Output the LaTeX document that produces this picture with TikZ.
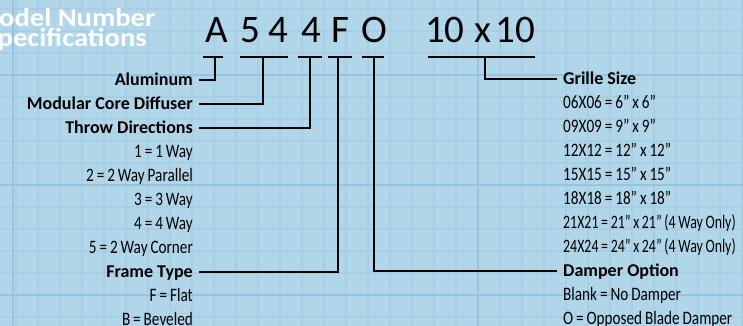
\documentclass[tikz,border=0pt]{standalone}
\usepackage{fontspec}
\setmainfont{Carlito}
\newfontfamily\specfont{Carlito}[FakeStretch=0.8, WordSpace=0.85]
\newfontfamily\specnarrow{Carlito}[FakeStretch=0.73, WordSpace=0.85]
\newfontfamily\titlefont{Carlito}[FakeStretch=1.1]
\usepackage{xcolor}
\usepackage{tikz}
\usetikzlibrary{
  positioning,
  backgrounds
}
\definecolor{PaperBlue}{RGB}{178,214,233}
\definecolor{GridBlue}{RGB}{166,206,229}
\definecolor{GridMajor}{RGB}{150,195,226}

\begin{document}
\begin{tikzpicture}[
  x=1pt, y=-1pt,
  lead/.style={draw=black, line width=1.1pt},
  codechar/.style={
    font=\fontsize{39}{39}\selectfont,
    inner sep=0pt,
    anchor=base,
  },
  titleline/.style={
    font=\titlefont\bfseries\fontsize{26}{26}\selectfont,
    text=white,
    inner sep=0pt,
    anchor=base west,
  },
  speclab/.style={
    font=\specfont\fontsize{19}{19}\selectfont,
    inner xsep=6pt, inner ysep=0pt,
    text height=12.5pt, text depth=1pt,
  },
  spechead/.style={
    speclab,
    font=\bfseries\fontsize{18}{18}\selectfont,
    text height=12pt,
  },
  leftlab/.style={speclab, anchor=east},
  lefthead/.style={spechead, anchor=east},
  rightlab/.style={speclab, anchor=west},
  widelab/.style={rightlab, font=\specnarrow\fontsize{19}{19}\selectfont},
  righthead/.style={spechead, anchor=west},
]
  % paper with grid
  \clip (0,0) rectangle (743,326);
  \fill[PaperBlue] (0,0) rectangle (743,326);
  \foreach \gx in {16,38,...,743}
    \draw[GridBlue, line width=1.6pt] (\gx,0) -- (\gx,326);
  \foreach \gy in {9,31,...,326}
    \draw[GridBlue, line width=1.6pt] (0,\gy) -- (743,\gy);
  \foreach \gx in {13,478}
    \draw[GridMajor, line width=2.4pt] (\gx,0) -- (\gx,326);
  \foreach \gy in {75,185,295}
    \draw[GridMajor, line width=2.4pt] (0,\gy) -- (743,\gy);

  % title
  \node[titleline] (title1) at (-26,27) {Model Number};
  \node[titleline] (title2) at (-16,47) {Specifications};

  % model code
  \node[codechar] (cA) at (216.5,43) {A};
  \node[codechar] (c5) at (250,43) {5};
  \node[codechar] (c4a) at (278,43) {4};
  \node[codechar] (c4b) at (311,43) {4};
  \node[codechar] (cF) at (340,43) {F};
  \node[codechar] (cO) at (374.5,43) {O};
  \node[codechar] (cSize) at (480,43) {10\hspace{10pt}x\hspace{4pt}10};

  % underlines
  \draw[lead] (203,57) -- (223,57);
  \draw[lead] (240,57) -- (288,57);
  \draw[lead] (298,57) -- (322,57);
  \draw[lead] (328,57) -- (352,57);
  \draw[lead] (362,57) -- (384,57);
  \draw[lead] (428,57) -- (535,57);
  \coordinate (tA) at (215,57);
  \coordinate (tMod) at (263,57);
  \coordinate (tThrow) at (310,57);
  \coordinate (tFrame) at (338,57);
  \coordinate (tDamp) at (374,57);
  \coordinate (tSize) at (485,57);

  % left column
  \node[lefthead] (alu) at (199,80) {Aluminum};
  \node[lefthead] (mcd) at (199,104) {Modular Core Diffuser};
  \node[lefthead] (throw) at (199,128) {Throw Directions};
  \node[leftlab] (tw1) at (199,152) {1 = 1 Way};
  \node[leftlab] (tw2) at (199,176) {2 = 2 Way Parallel};
  \node[leftlab] (tw3) at (199,200) {3 = 3 Way};
  \node[leftlab] (tw4) at (199,224) {4 = 4 Way};
  \node[leftlab] (tw5) at (199,248) {5 = 2 Way Corner};
  \node[lefthead] (frame) at (199,272) {Frame Type};
  \node[leftlab] (frF) at (199,296) {F = Flat};
  \node[leftlab] (frB) at (199,320) {B = Beveled};

  % right column
  \node[righthead] (grille) at (557,79) {Grille Size};
  \node[rightlab] (gs06) at (557,103) {06X06 = 6” x 6”};
  \node[rightlab] (gs09) at (557,127) {09X09 = 9” x 9”};
  \node[rightlab] (gs12) at (557,151) {12X12 = 12” x 12”};
  \node[rightlab] (gs15) at (557,175) {15X15 = 15” x 15”};
  \node[rightlab] (gs18) at (557,199) {18X18 = 18” x 18”};
  \node[widelab] (gs21) at (557,223) {21X21 = 21” x 21” (4 Way Only)};
  \node[widelab] (gs24) at (557,247) {24X24 = 24” x 24” (4 Way Only)};
  \node[righthead] (damper) at (557,271) {Damper Option};
  \node[rightlab] (dpBlank) at (557,295) {Blank = No Damper};
  \node[rightlab] (dpO) at (557,319) {O = Opposed Blade Damper};

  % leaders
  \draw[lead] (tA) |- (alu.east);
  \draw[lead] (tMod) |- (mcd.east);
  \draw[lead] (tThrow) |- (throw.east);
  \draw[lead] (tFrame) |- (frame.east);
  \draw[lead] (tDamp) |- (damper.west);
  \draw[lead] (tSize) |- (grille.west);
\end{tikzpicture}
\end{document}
